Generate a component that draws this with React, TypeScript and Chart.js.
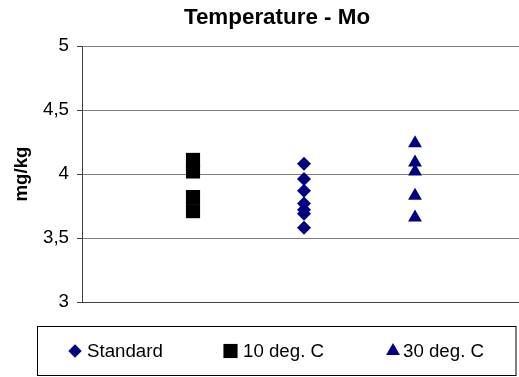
import React, { useEffect, useRef } from "react";
import { Chart, registerables } from "chart.js";
import { drawPoint } from "chart.js/helpers";

Chart.register(...registerables);

const seriesNames = ["Standard", "10 deg. C", "30 deg. C"];
const seriesX = [2, 1, 3];
const standardValues = [4.08, 3.96, 3.87, 3.77, 3.72, 3.69, 3.58];
const tenDegValues = [4.11, 4.02, 3.82, 3.71];
const thirtyDegValues = [4.24, 4.09, 4.02, 3.83, 3.66];
const yTicks = [3, 3.5, 4, 4.5, 5];
const chartTitle = "Temperature - Mo";
const yAxisTitle = "mg/kg";

const FONT = "'Liberation Sans', Arial, sans-serif";
const NAVY = "#000080";

const seriesValues = [standardValues, tenDegValues, thirtyDegValues];
const seriesStyles = [
  { pointStyle: "rectRot", radius: 7, color: NAVY },
  { pointStyle: "rect", radius: 10, color: "#000000" },
  { pointStyle: "triangle", radius: 8, color: NAVY },
];

const titlePlugin = {
  id: "customTitle",
  afterDraw(chart: any) {
    const ctx = chart.ctx;
    ctx.save();
    ctx.fillStyle = "#000";
    ctx.font = `bold 22.4px ${FONT}`;
    ctx.textAlign = "center";
    ctx.textBaseline = "alphabetic";
    ctx.fillText(chartTitle, chart.width / 2, 24);
    ctx.restore();
  },
};

const legendPlugin = {
  id: "customLegend",
  afterDraw(chart: any) {
    const ctx = chart.ctx;
    ctx.save();
    ctx.strokeStyle = "#000";
    ctx.lineWidth = 1;
    ctx.strokeRect(37.5, 326.5, 478.5, 49);
    const markerX = [75, 230.5, 393];
    const textX = [87, 243, 403];
    const legendRadius = [6.7, 10, 8];
    const y = 351;
    chart.data.datasets.forEach((ds: any, i: number) => {
      ctx.fillStyle = ds.backgroundColor;
      ctx.strokeStyle = ds.borderColor;
      drawPoint(
        ctx,
        { pointStyle: ds.pointStyle, radius: legendRadius[i], rotation: 0, borderWidth: 0 },
        markerX[i],
        y
      );
      ctx.fillStyle = "#000";
      ctx.font = `18.7px ${FONT}`;
      ctx.textAlign = "left";
      ctx.textBaseline = "middle";
      ctx.fillText(ds.label, textX[i], y + 1);
    });
    ctx.restore();
  },
};

export default function App() {
  const ref = useRef<HTMLCanvasElement>(null);
  useEffect(() => {
    if (!ref.current) return;
    const chart = new Chart(ref.current, {
      type: "scatter",
      data: {
        datasets: seriesNames.map((name, i) => ({
          label: name,
          data: seriesValues[i].map((v) => ({ x: seriesX[i], y: v })),
          pointStyle: seriesStyles[i].pointStyle as any,
          pointRadius: seriesStyles[i].radius,
          pointHoverRadius: seriesStyles[i].radius,
          backgroundColor: seriesStyles[i].color,
          borderColor: seriesStyles[i].color,
          borderWidth: 0,
        })),
      },
      options: {
        animation: false,
        responsive: false,
        devicePixelRatio: 1,
        layout: { padding: { left: 0, right: 28, top: 46, bottom: 75 } },
        plugins: {
          legend: { display: false },
          title: { display: false },
          tooltip: { enabled: false },
        },
        scales: {
          x: {
            type: "linear",
            min: 0,
            max: 4,
            ticks: { display: false },
            grid: { display: false },
            border: { display: true, color: "#404040", width: 1 },
            afterFit: (s: any) => {
              s.height = 0;
            },
          },
          y: {
            type: "linear",
            min: 3,
            max: 5,
            afterBuildTicks: (s: any) => {
              s.ticks = yTicks.map((v) => ({ value: v }));
            },
            ticks: {
              color: "#000",
              padding: 8,
              font: { family: FONT, size: 18.7 },
              callback: (v: any) => String(v).replace(".", ","),
            },
            grid: { color: "#808080", tickLength: 5, tickColor: "#404040" },
            border: { display: true, color: "#404040", width: 1 },
            title: {
              display: true,
              text: yAxisTitle,
              color: "#000",
              padding: { top: 11, bottom: 0 },
              font: { family: FONT, size: 18.7, weight: "bold" },
            },
            afterFit: (s: any) => {
              s.width = 82;
            },
          },
        },
      },
      plugins: [titlePlugin, legendPlugin],
    });
    return () => chart.destroy();
  }, []);
  return (
    <div
      style={{
        position: "fixed",
        left: 0,
        top: 0,
        width: 519,
        height: 377,
        overflow: "hidden",
        background: "#fff",
      }}
    >
      <canvas ref={ref} width={554} height={377} style={{ width: 554, height: 377, display: "block" }} />
    </div>
  );
}
